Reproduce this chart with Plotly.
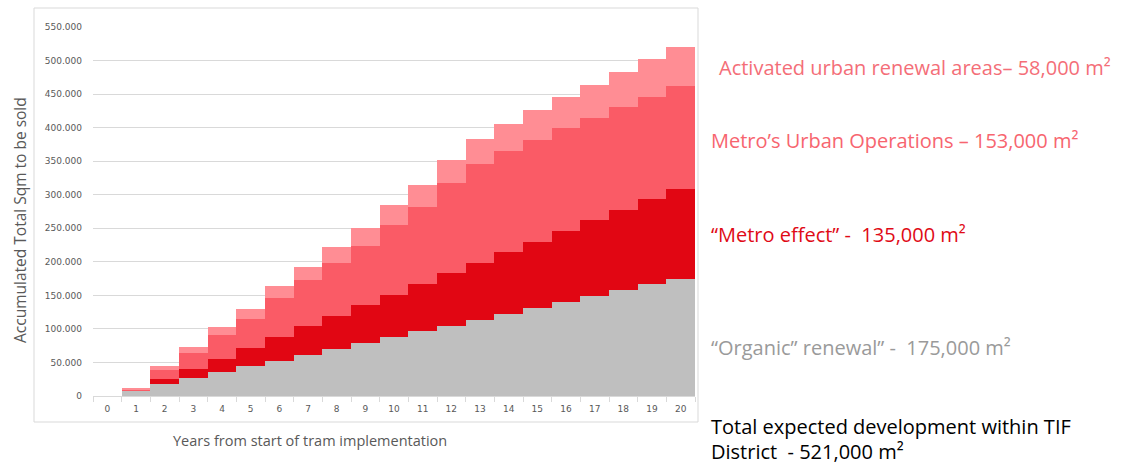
import plotly.graph_objects as go

years = [str(i) for i in range(21)]
organic = [0, 8800, 17400, 26300, 35300, 44200, 52700, 61600, 70000, 79000, 87400,
           96400, 104800, 113800, 122700, 131700, 139600, 149500, 157500, 166400, 175000]
metro_effect = [0, 0, 7400, 13900, 20300, 27800, 35200, 42200, 49200, 56600, 63600,
                70500, 78000, 84400, 91900, 98300, 106800, 112300, 119700, 127200, 134000]
urban_ops = [0, 1300, 13950, 23400, 35300, 43300, 57700, 68600, 79000, 88000, 103900,
             115300, 134200, 148100, 150500, 151500, 153000, 153000, 153500, 152500, 153500]
activated = [0, 1200, 5450, 8900, 11900, 14400, 17800, 20400, 23400, 26300, 29300,
             31800, 34200, 37200, 40300, 44300, 45700, 49200, 52700, 55700, 57600]

series = [
    ("Organic renewal", organic, "#BFBFBF"),
    ("Metro effect", metro_effect, "#E10613"),
    ("Metro's Urban Operations", urban_ops, "#FA5B66"),
    ("Activated urban renewal areas", activated, "#FF8D94"),
]

fig = go.Figure()
for name, vals, col in series:
    fig.add_trace(go.Bar(x=years, y=vals, name=name, marker=dict(color=col, line=dict(width=0))))

W, H = 1138, 464
L, R, T, B = 93, 443, 27, 68
pw, ph = W - L - R, H - T - B

def px(x):
    return (x - L) / pw

def py(y):
    return (H - B - y) / ph

fig.update_layout(
    width=W, height=H,
    margin=dict(l=L, r=R, t=T, b=B),
    barmode="stack", bargap=0,
    showlegend=False,
    plot_bgcolor="white", paper_bgcolor="white",
    separators=",.",
    font=dict(family="DejaVu Sans", color="#595959"),
    xaxis=dict(
        type="category", tickson="boundaries", ticks="outside", ticklen=5,
        tickcolor="#D9D9D9", showline=True, linecolor="#D9D9D9", linewidth=1,
        showgrid=False, tickfont=dict(size=9, color="#595959"),
        ticklabelstandoff=4,
    ),
    yaxis=dict(
        range=[0, 550000], dtick=50000, tickformat=",d",
        showgrid=True, gridcolor="#D9D9D9", gridwidth=1, zeroline=False,
        ticks="", tickfont=dict(size=9, color="#595959"),
        ticklabelstandoff=10,
    ),
)

# chart frame
fig.add_shape(type="rect", xref="paper", yref="paper",
              x0=px(34), x1=px(698), y0=py(422), y1=py(8),
              line=dict(color="#D9D9D9", width=1), fillcolor="rgba(0,0,0,0)", layer="below")

# axis titles
fig.add_annotation(x=px(310), y=py(440), xref="paper", yref="paper",
                   text="Years from start of tram implementation", showarrow=False,
                   xanchor="center", yanchor="middle",
                   font=dict(family="Open Sans", size=14.5, color="#595959"))
fig.add_annotation(x=px(20), y=py(220), xref="paper", yref="paper",
                   text="Accumulated Total Sqm to be sold", showarrow=False, textangle=-90,
                   xanchor="center", yanchor="middle",
                   font=dict(family="Open Sans", size=15.5, color="#595959"))

ann = [
    (717, 67, "Activated urban renewal areas\u2013 58,000 m\u00b2", "#F46E78"),
    (709, 140, "Metro\u2019s Urban Operations \u2013 153,000 m\u00b2", "#F7656F"),
    (709, 234, "\u201cMetro effect\u201d -  135,000 m\u00b2", "#E00A16"),
    (709, 347, "\u201cOrganic\u201d renewal\u201d -  175,000 m\u00b2", "#9A9A9A"),
    (709, 427, "Total expected development within TIF", "#000000"),
    (709, 451, "District  - 521,000 m\u00b2", "#000000"),
]
for x, y, t, c in ann:
    fig.add_annotation(x=px(x), y=py(y), xref="paper", yref="paper", text=t,
                       showarrow=False, xanchor="left", yanchor="middle", align="left",
                       font=dict(family="Open Sans", size=20, color=c))

fig.write_html("out.html")
